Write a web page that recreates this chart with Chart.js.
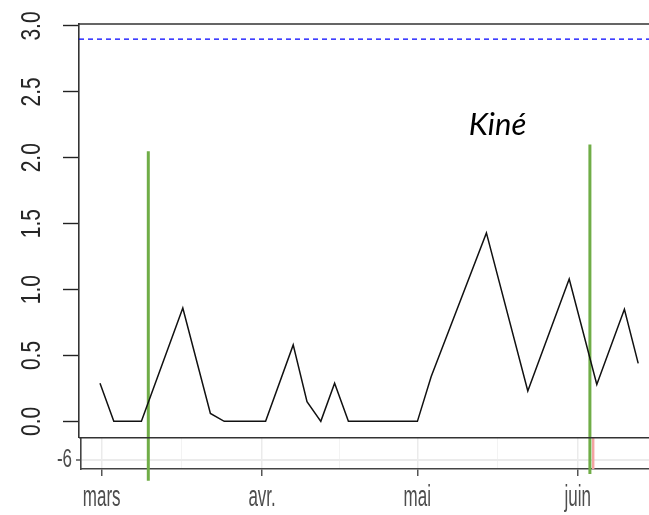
<!DOCTYPE html>
<html>
<head>
<meta charset="utf-8">
<script src="https://cdn.jsdelivr.net/npm/chart.js@4/dist/chart.umd.min.js"></script>
<style>
  html, body { margin: 0; padding: 0; background: #ffffff; overflow: hidden; }
  #wrap { position: relative; width: 649px; height: 515px; overflow: hidden; background: #ffffff; }
  canvas { position: absolute; left: 0; top: 0; }
</style>
</head>
<body>
<div id="wrap">
  <canvas id="strip" width="700" height="515"></canvas>
  <canvas id="main" width="700" height="515"></canvas>
</div>
<script>
// ---- score series (x = measurement index) ----
const obsIndex = [0, 1, 3, 6, 8, 9, 12, 14, 15, 16, 17, 18, 23, 24, 28, 31, 34, 36, 38, 39];
const scores   = [0.29, 0, 0, 0.86, 0.06, 0, 0, 0.58, 0.15, 0, 0.29, 0, 0, 0.34, 1.43, 0.23, 1.08, 0.28, 0.85, 0.44];
const thresholdValue = 2.9;
const yTicks      = [0, 0.5, 1, 1.5, 2, 2.5, 3];
const yTickLabels = ['0.0', '0.5', '1.0', '1.5', '2.0', '2.5', '3.0'];

// session markers: index position, lower and upper extent
const markerIndex = [3.5, 35.5];
const markerLow   = [-0.45, -0.40];
const markerHigh  = [2.05, 2.10];
const noteText  = 'Kiné';
const noteIndex = 28.8;
const noteValue = 2.17;

// ---- calendar strip ----
const monthDates  = ['2020-03-01', '2020-04-01', '2020-05-01', '2020-06-01'];
const monthLabels = ['mars', 'avr.', 'mai', 'juin'];
const stripTicks      = [-6];
const stripTickLabels = ['-6'];
const eventDate = '2020-06-04';

const DAY0 = Date.parse(monthDates[0]);
const dayOf = s => (Date.parse(s) - DAY0) / 86400000;
const monthDays = monthDates.map(dayOf);
const minorDays = monthDays.slice(0, -1).map((d, i) => (d + monthDays[i + 1]) / 2);

Chart.defaults.animation = false;
Chart.defaults.responsive = false;
Chart.defaults.devicePixelRatio = 1;
Chart.defaults.events = [];
Chart.defaults.plugins.legend.display = false;
Chart.defaults.plugins.tooltip.enabled = false;

// text stretched along one axis
function stretchedText(ctx, txt, x, y, opt) {
  ctx.save();
  ctx.translate(x, y);
  if (opt.rotate) ctx.rotate(opt.rotate);
  ctx.scale(opt.sx || 1, opt.sy || 1);
  ctx.font = opt.font;
  ctx.fillStyle = opt.color;
  ctx.textAlign = opt.align || 'center';
  ctx.textBaseline = opt.baseline || 'middle';
  ctx.fillText(txt, 0, 0);
  ctx.restore();
}

const stripLabels = {
  id: 'stripLabels',
  afterDraw(chart) {
    const ctx = chart.ctx, xs = chart.scales.x, ys = chart.scales.y;
    monthDays.forEach((d, i) => {
      stretchedText(ctx, monthLabels[i], xs.getPixelForValue(d), 498,
        { font: '17px "Liberation Sans", Arial, sans-serif', color: '#4d4d4d', sy: 1.7 });
    });
    stripTicks.forEach((v, i) => {
      stretchedText(ctx, stripTickLabels[i], 72, ys.getPixelForValue(v),
        { font: '17px "Liberation Sans", Arial, sans-serif', color: '#4d4d4d', sy: 1.5, align: 'right' });
    });
  }
};

new Chart(document.getElementById('strip'), {
  type: 'line',
  data: {
    datasets: [{
      data: [{ x: dayOf(eventDate), y: -8 }, { x: dayOf(eventDate), y: -3 }],
      borderColor: '#f4a3a3', borderWidth: 2.4, pointRadius: 0
    }]
  },
  options: {
    layout: { padding: { top: 438, left: 0, right: 0, bottom: 0 } },
    scales: {
      x: {
        type: 'linear', min: -4.0, max: 115.64,
        afterBuildTicks: s => { s.ticks = monthDays.concat(minorDays).sort((a, b) => a - b).map(v => ({ value: v })); },
        ticks: { display: false },
        grid: {
          color: c => monthDays.includes(c.tick.value) ? '#ebebeb' : '#f3f3f3',
          lineWidth: c => monthDays.includes(c.tick.value) ? 1.5 : 1,
          tickColor: c => monthDays.includes(c.tick.value) ? '#555555' : 'rgba(0,0,0,0)',
          tickLength: 7, tickWidth: 1.5
        },
        border: { display: true, color: '#444444', width: 1.6 },
        afterFit: s => { s.height = 515 - 469; }
      },
      y: {
        min: -6.6, max: -4.55,
        afterBuildTicks: s => { s.ticks = stripTicks.map(v => ({ value: v })); },
        ticks: { display: false },
        grid: { color: '#ebebeb', lineWidth: 2, tickColor: '#555555', tickLength: 5, tickWidth: 1.5 },
        border: { display: true, color: '#444444', width: 1.6 },
        afterFit: s => { s.width = 81; }
      }
    }
  },
  plugins: [stripLabels]
});

const mainDecor = {
  id: 'mainDecor',
  afterDraw(chart) {
    const ctx = chart.ctx, a = chart.chartArea, xs = chart.scales.x, ys = chart.scales.y;
    ctx.save();
    ctx.strokeStyle = '#333333';
    ctx.lineWidth = 1.6;
    ctx.beginPath();
    ctx.moveTo(a.left, a.top); ctx.lineTo(a.right, a.top);
    ctx.moveTo(a.left, a.bottom); ctx.lineTo(a.right, a.bottom);
    ctx.stroke();
    ctx.restore();
    yTicks.forEach((v, i) => {
      stretchedText(ctx, yTickLabels[i], 32, ys.getPixelForValue(v),
        { font: '21px "Liberation Sans", Arial, sans-serif', color: '#262626',
          rotate: -Math.PI / 2, sy: 1.3 });
    });
    stretchedText(ctx, noteText, xs.getPixelForValue(noteIndex), ys.getPixelForValue(noteValue),
      { font: 'italic 31px Lato, "Open Sans", sans-serif', color: '#000000', baseline: 'alphabetic' });
  }
};

new Chart(document.getElementById('main'), {
  type: 'line',
  data: {
    datasets: [
      {
        data: obsIndex.map((x, i) => ({ x: x, y: scores[i] })),
        borderColor: '#111111', borderWidth: 1.5, pointRadius: 0, tension: 0
      },
      {
        data: [{ x: -10, y: thresholdValue }, { x: 60, y: thresholdValue }],
        borderColor: '#0000ff', borderWidth: 1.4, borderDash: [5, 4], pointRadius: 0
      }
    ].concat(markerIndex.map((m, i) => ({
      data: [{ x: m, y: markerLow[i] }, { x: m, y: markerHigh[i] }],
      borderColor: '#70ad47', borderWidth: 3, pointRadius: 0, clip: false
    })))
  },
  options: {
    layout: { padding: { top: 24, left: 0, right: 0, bottom: 515 - 437.7 } },
    scales: {
      x: { type: 'linear', display: false, min: -1.522, max: 43.478 },
      y: {
        min: -0.124, max: 3.015,
        afterBuildTicks: s => { s.ticks = yTicks.map(v => ({ value: v })); },
        ticks: { display: false },
        grid: { drawOnChartArea: false, tickLength: 16, tickColor: '#222222', tickWidth: 1.4 },
        border: { display: true, color: '#333333', width: 1.6 },
        afterFit: s => { s.width = 79; }
      }
    }
  },
  plugins: [mainDecor]
});
</script>
</body>
</html>
